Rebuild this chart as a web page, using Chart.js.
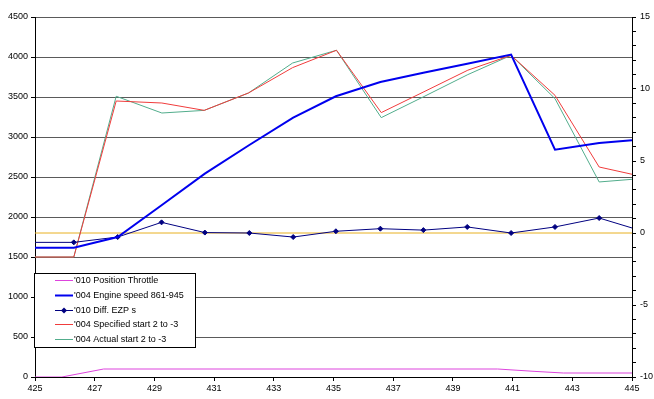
<!DOCTYPE html>
<html>
<head>
<meta charset="utf-8">
<script src="https://cdn.jsdelivr.net/npm/chart.js@4/dist/chart.umd.min.js"></script>
<style>
  body { margin: 0; background: #fff; }
  canvas { display: block; }
</style>
</head>
<body>
<canvas id="myChart" width="654" height="399"></canvas>
<script>
// x axis labels (seconds)
var xTicks = [425, 427, 429, 431, 433, 435, 437, 439, 441, 443, 445];

// '010 Position Throttle
var throttleTime = [425, 425.9, 427.3, 440.5, 441.75, 442.7, 445];
var throttle = [0, 0, 100, 100, 70, 50, 50];

// '004 Engine speed / '010 Diff. EZP share sample times
var sampleTime = [425, 426.3, 427.77, 429.24, 430.69, 432.18, 433.65, 435.08, 436.57, 438.01, 439.48, 440.95, 442.42, 443.9, 445];
var engineSpeed = [1617, 1617, 1750, 2147, 2542, 2900, 3242, 3509, 3688, 3803, 3916, 4030, 2842, 2925, 2959];
var diffEzp = [-0.65, -0.65, -0.28, 0.74, 0.03, 0.0, -0.28, 0.12, 0.3, 0.2, 0.42, 0.0, 0.42, 1.04, 0.35];

// '004 Specified / Actual start
var startTime = [425, 426.3, 427.72, 429.25, 430.67, 432.15, 433.63, 435.1, 436.6, 438.0, 439.5, 440.95, 442.42, 443.9, 445];
var specifiedStart = [1500, 1500, 3450, 3425, 3333, 3550, 3867, 4084, 3305, 3560, 3835, 4021, 3521, 2625, 2534];
var actualStart = [1500, 1500, 3509, 3300, 3333, 3550, 3925, 4084, 3242, 3500, 3780, 4021, 3480, 2438, 2471];

// reference line on the right axis
var zeroTime = [425, 445];
var zeroLine = [0, 0];

var FONT = { family: "'Liberation Sans', Arial, sans-serif", size: 9 };

function pts(xs, ys) {
  return xs.map(function (x, i) { return { x: x, y: ys[i] }; });
}

// legend drawn inside the plot area, like the excel one
var boxLegend = {
  id: "boxLegend",
  afterDraw: function (chart) {
    var ctx = chart.ctx;
    var ca = chart.chartArea;
    var items = chart.data.datasets.filter(function (d) { return d.inLegend; });
    var left = ca.left - 1;
    var top = ca.bottom - 104;
    ctx.save();
    ctx.fillStyle = "#fff";
    ctx.fillRect(left, top, 162, 75);
    ctx.strokeStyle = "#000";
    ctx.lineWidth = 1;
    ctx.strokeRect(left + 0.5, top + 0.5, 161, 74);
    ctx.font = FONT.size + "px " + FONT.family;
    ctx.textBaseline = "middle";
    items.forEach(function (d, i) {
      var y = Math.round(top + 7 + i * 14.8) + 0.5;
      ctx.strokeStyle = d.borderColor;
      ctx.lineWidth = d.borderWidth;
      ctx.beginPath();
      ctx.moveTo(left + 21, y);
      ctx.lineTo(left + 39, y);
      ctx.stroke();
      if (d.legendMarker) {
        ctx.fillStyle = d.borderColor;
        ctx.beginPath();
        ctx.moveTo(left + 30, y - 3);
        ctx.lineTo(left + 33, y);
        ctx.lineTo(left + 30, y + 3);
        ctx.lineTo(left + 27, y);
        ctx.closePath();
        ctx.fill();
      }
      ctx.fillStyle = "#000";
      ctx.fillText(d.label, left + 40, y);
    });
    ctx.restore();
  }
};

var ctx = document.getElementById("myChart").getContext("2d");
var chart = new Chart(ctx, {
  type: "line",
  data: {
    datasets: [
      {
        label: "'010 Position Throttle",
        data: pts(throttleTime, throttle),
        borderColor: "#dd44dd",
        borderWidth: 1,
        pointRadius: 0,
        yAxisID: "y",
        inLegend: true
      },
      {
        label: "'004 Engine speed 861-945",
        data: pts(sampleTime, engineSpeed),
        borderColor: "#0000ee",
        borderWidth: 2,
        pointRadius: 0,
        yAxisID: "y",
        inLegend: true
      },
      {
        label: "'010 Diff. EZP s",
        data: pts(sampleTime, diffEzp),
        borderColor: "#000080",
        backgroundColor: "#000080",
        borderWidth: 1,
        pointStyle: "rectRot",
        pointRadius: function (c) {
          var x = c.raw ? c.raw.x : 0;
          return x > 425 && x < 445 ? 2.5 : 0;
        },
        yAxisID: "y2",
        inLegend: true,
        legendMarker: true
      },
      {
        label: "'004 Specified start 2 to -3",
        data: pts(startTime, specifiedStart),
        borderColor: "#f03c3c",
        borderWidth: 1,
        pointRadius: 0,
        yAxisID: "y",
        inLegend: true
      },
      {
        label: "'004 Actual start 2 to -3",
        data: pts(startTime, actualStart),
        borderColor: "#52ad8c",
        borderWidth: 1,
        pointRadius: 0,
        yAxisID: "y",
        inLegend: true
      },
      {
        label: "zero",
        data: pts(zeroTime, zeroLine),
        borderColor: "#e8b020",
        borderWidth: 1,
        pointRadius: 0,
        yAxisID: "y2"
      }
    ]
  },
  options: {
    responsive: false,
    animation: false,
    layout: { padding: { top: 17, left: 0, right: 0, bottom: 0 } },
    plugins: {
      legend: { display: false },
      tooltip: { enabled: false }
    },
    elements: { line: { tension: 0 } },
    scales: {
      x: {
        type: "linear",
        min: 425,
        max: 445,
        afterBuildTicks: function (axis) {
          axis.ticks = xTicks.map(function (v) { return { value: v }; });
        },
        afterFit: function (axis) { axis.height = 22; },
        grid: { drawOnChartArea: false, tickLength: 4, color: "#000" },
        border: { color: "#000" },
        ticks: {
          font: FONT, color: "#000", padding: 2, maxRotation: 0, autoSkip: false,
          callback: function (v) { return String(v); }
        }
      },
      y: {
        position: "left",
        min: 0,
        max: 4500,
        afterFit: function (axis) { axis.width = 35; },
        grid: { color: "#5a5a5a", tickColor: "#000", tickLength: 4 },
        border: { color: "#000" },
        ticks: {
          stepSize: 500, font: FONT, color: "#000", padding: 3,
          callback: function (v) { return String(v); }
        }
      },
      y2: {
        position: "right",
        min: -10,
        max: 15,
        afterFit: function (axis) { axis.width = 22; },
        grid: { drawOnChartArea: false, tickColor: "#000", tickLength: 4 },
        border: { color: "#000" },
        ticks: {
          stepSize: 1,
          autoSkip: false,
          font: FONT,
          color: "#000",
          padding: 4,
          callback: function (v) { return v % 5 === 0 ? String(v) : ""; }
        }
      }
    }
  },
  plugins: [boxLegend]
});
</script>
</body>
</html>
